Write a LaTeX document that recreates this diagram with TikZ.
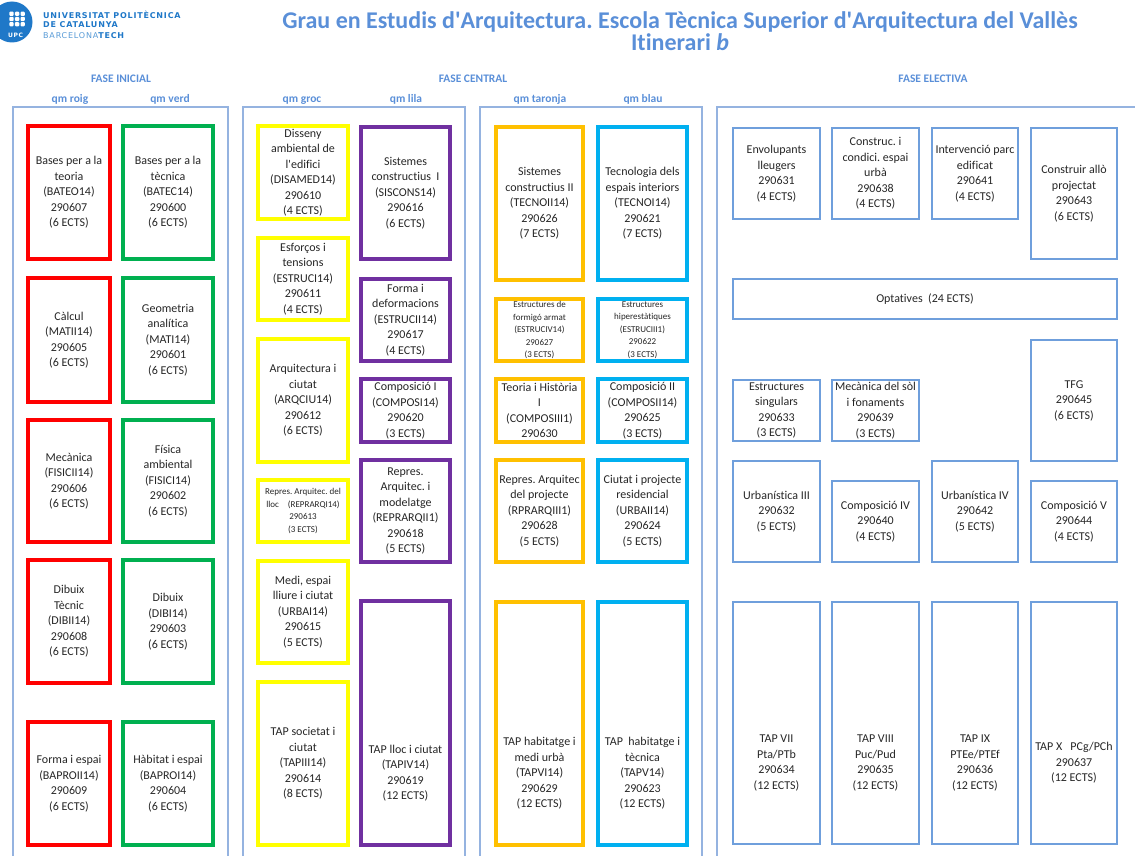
\documentclass[tikz,border=0pt]{standalone}
\usepackage{fontspec}
\setmainfont{Carlito}[Ligatures={NoCommon}]
\newfontfamily\logofont{DejaVu Sans}[LetterSpace=10]
\frenchspacing
\definecolor{qmroig}{HTML}{FF0000}
\definecolor{qmverd}{HTML}{00B050}
\definecolor{qmgroc}{HTML}{FFFF00}
\definecolor{qmlila}{HTML}{7030A0}
\definecolor{qmtaronja}{HTML}{FFC000}
\definecolor{qmblau}{HTML}{00B0F0}
\definecolor{panellblau}{HTML}{95B3E0}
\definecolor{electblau}{HTML}{6F9FDC}
\definecolor{titolblau}{HTML}{5A8FD8}
\definecolor{upcblau}{HTML}{1F78C8}
\definecolor{textgris}{HTML}{262626}
\def\assig[#1](#2)(#3,#4)(#5,#6)[#7]#8{\node[#1, minimum width={(#5-#3)*1pt}, minimum height={(#6-#4)*1pt}] (#2) at ({(#3+#5)/2}, {(#4+#6)/2}) {};
	\node[txt, #7] (#2t) at (#2.center) {#8};}

\begin{document}
\begin{tikzpicture}[x=1pt, y=-1pt,
	caixa/.style={draw, inner sep=0, outer sep=0, line width=3.5pt},
	roig/.style={caixa, draw=qmroig},
	verd/.style={caixa, draw=qmverd},
	groc/.style={caixa, draw=qmgroc},
	lila/.style={caixa, draw=qmlila},
	taronja/.style={caixa, draw=qmtaronja},
	blau/.style={caixa, draw=qmblau},
	elect/.style={caixa, draw=electblau, line width=1.5pt},
	panell/.style={draw=panellblau, line width=2.5pt},
	txt/.style={align=center, inner sep=0, text=textgris, font=\fontsize{12}{15.5}\selectfont},
	petit/.style={font=\fontsize{9}{12.5}\selectfont},
	fase/.style={anchor=base, inner sep=0, text=titolblau, font=\bfseries\fontsize{11.5}{13}\selectfont}]
	%%%%% START %%%%%
	
	\useasboundingbox (0,0) rectangle (1135,856);
	
	% logo
	\fill[upcblau] (12,22) circle (20.5);
	\foreach \i in {0,1,2}
	\foreach \j in {0,1,2}
	\fill[white, rounded corners=1pt] ({9.3+5.6*\i},{11.7+5.2*\j}) rectangle +(4.4,4.2);
	\node[text=white, inner sep=0, font=\logofont\bfseries\fontsize{6}{6}\selectfont] (upc) at (15.5,35.5) {UPC};
	\node[anchor=west, align=left, inner sep=0, text=upcblau, font=\logofont\bfseries\fontsize{8}{8.6}\selectfont] (logotext) at (43,25) {UNIVERSITAT POLITÈCNICA\\DE CATALUNYA\\[2.2pt]{\mdseries\color{upcblau!75}BARCELONA}TECH};
	
	% titol
	\node[align=center, inner sep=0, text=titolblau, font=\bfseries\fontsize{24}{22.5}\selectfont] (titol) at (680,31) {Grau en Estudis d\textquotesingle Arquitectura. Escola Tècnica Superior d\textquotesingle Arquitectura del Vallès\\Itinerari \textit{b}};
	
	% fases
	\node[fase] (inicial) at (121,83) {FASE INICIAL};
	\node[fase] (central) at (473,83) {FASE CENTRAL};
	\node[fase] (electiva) at (933,83) {FASE ELECTIVA};
	\node[fase] (hroig) at (70,102.5) {qm roig};
	\node[fase] (hverd) at (170,102.5) {qm verd};
	\node[fase] (hgroc) at (302,102.5) {qm groc};
	\node[fase] (hlila) at (406,102.5) {qm lila};
	\node[fase] (htaronja) at (540,102.5) {qm taronja};
	\node[fase] (hblau) at (643,102.5) {qm blau};
	
	\draw[panell] (13,870) -- (13,107) -- (228,107) -- (228,870);
	\draw[panell] (243,870) -- (243,107) -- (465,107) -- (465,870);
	\draw[panell] (480,870) -- (480,107) -- (702,107) -- (702,870);
	\draw[panell] (717,870) -- (717,107) -- (1150,107);
	
	% fase inicial
	\assig[roig](bateo)(28,126)(110,259)[]{Bases per a la\\teoria\\(BATEO14)\\290607\\(6 ECTS)}
	\assig[verd](batec)(123,126)(213,259)[]{Bases per a la\\tècnica\\(BATEC14)\\290600\\(6 ECTS)}
	\assig[roig](matii)(28,278)(110,402)[]{Càlcul\\(MATII14)\\290605\\(6 ECTS)}
	\assig[verd](mati)(123,278)(213,402)[]{Geometria\\analítica\\(MATI14)\\290601\\(6 ECTS)}
	\assig[roig](fisicii)(28,420)(110,542)[]{Mecànica\\(FISICII14)\\290606\\(6 ECTS)}
	\assig[verd](fisici)(123,420)(213,542)[]{Física\\ambiental\\(FISICI14)\\290602\\(6 ECTS)}
	\assig[roig](dibii)(28,560)(110,683)[]{Dibuix\\Tècnic\\(DIBII14)\\290608\\(6 ECTS)}
	\assig[verd](dibi)(123,560)(213,683)[]{Dibuix\\(DIBI14)\\290603\\(6 ECTS)}
	\assig[roig](baproii)(28,722)(110,845)[]{Forma i espai\\(BAPROII14)\\290609\\(6 ECTS)}
	\assig[verd](baproi)(123,722)(213,845)[]{Hàbitat i espai\\(BAPROI14)\\290604\\(6 ECTS)}
	
	% fase central
	\assig[groc](disamed)(258,126)(348,219)[]{Disseny\\ambiental de\\l\textquotesingle edifici\\(DISAMED14)\\290610\\(4 ECTS)}
	\assig[groc](estruci)(258,238)(348,320)[]{Esforços i\\tensions\\(ESTRUCI14)\\290611\\(4 ECTS)}
	\assig[groc](arqciu)(258,339)(348,462)[]{Arquitectura i\\ciutat\\(ARQCIU14)\\290612\\(6 ECTS)}
	\assig[groc](reprarqi)(258,480)(348,542)[petit]{Repres. Arquitec. del\\lloc\quad(REPRARQI14)\\290613\\(3 ECTS)}
	\assig[groc](urbai)(258,561)(348,663)[]{Medi, espai\\lliure i ciutat\\(URBAI14)\\290615\\(5 ECTS)}
	\assig[groc](tapiii)(258,682)(348,845)[]{TAP societat i\\ciutat\\(TAPIII14)\\290614\\(8 ECTS)}
	\assig[lila](siscons)(361,127)(450,259)[]{Sistemes\\constructius~ I\\(SISCONS14)\\290616\\(6 ECTS)}
	\assig[lila](estrucii)(361,279)(450,361)[]{Forma i\\deformacions\\(ESTRUCII14)\\290617\\(4 ECTS)}
	\assig[lila](composi)(361,379)(450,442)[]{Composició I\\(COMPOSI14)\\290620\\(3 ECTS)}
	\assig[lila](reprarqii)(361,460)(450,562)[]{Repres.\\Arquitec. i\\modelatge\\(REPRARQII1)\\290618\\(5 ECTS)}
	\assig[lila](tapiv)(361,601)(450,845)[yshift=-50]{TAP lloc i ciutat\\(TAPIV14)\\290619\\(12 ECTS)}
	
	\assig[taronja](tecnoii)(496,127)(583,280)[]{Sistemes\\constructius II\\(TECNOII14)\\290626\\(7 ECTS)}
	\assig[blau](tecnoi)(598,127)(687,280)[]{Tecnologia dels\\espais interiors\\(TECNOI14)\\290621\\(7 ECTS)}
	\assig[taronja](estruciv)(496,299)(583,361)[petit]{Estructures de\\formigó armat\\(ESTRUCIV14)\\290627\\(3 ECTS)}
	\assig[blau](estruciii)(598,299)(687,361)[petit]{Estructures\\hiperestàtiques\\(ESTRUCIII1)\\290622\\(3 ECTS)}
	\assig[taronja](composiii)(496,379)(583,442)[]{Teoria i Història\\I\\(COMPOSIII1)\\290630}
	\assig[blau](composii)(598,379)(687,442)[]{Composició II\\(COMPOSII14)\\290625\\(3 ECTS)}
	\assig[taronja](rprarqiii)(496,460)(583,562)[]{Repres. Arquitec\\del projecte\\(RPRARQIII1)\\290628\\(5 ECTS)}
	\assig[blau](urbaii)(598,460)(687,562)[]{Ciutat i projecte\\residencial\\(URBAII14)\\290624\\(5 ECTS)}
	\assig[taronja](tapvi)(496,602)(583,845)[yshift=-50]{TAP habitatge i\\medi urbà\\(TAPVI14)\\290629\\(12 ECTS)}
	\assig[blau](tapv)(598,602)(687,845)[yshift=-50]{TAP~ habitatge i\\tècnica\\(TAPV14)\\290623\\(12 ECTS)}
	
	% fase electiva
	\assig[elect](e631)(733,128)(820,219)[]{Envolupants\\lleugers\\290631\\(4 ECTS)}
	\assig[elect](e638)(832,128)(919,219)[]{Construc. i\\condici. espai\\urbà\\290638\\(4 ECTS)}
	\assig[elect](e641)(932,128)(1018,219)[]{Intervenció parc\\edificat\\290641\\(4 ECTS)}
	\assig[elect](e643)(1031,128)(1117,259)[]{Construir allò\\projectat\\290643\\(6 ECTS)}
	\assig[elect](optat)(733,279)(1117,319)[]{Optatives~ (24 ECTS)}
	\assig[elect](e633)(733,380)(820,441)[]{Estructures\\singulars\\290633\\(3 ECTS)}
	\assig[elect](e639)(832,380)(919,441)[]{Mecànica del sòl\\i fonaments\\290639\\(3 ECTS)}
	\assig[elect](tfg)(1031,340)(1117,461)[]{TFG\\290645\\(6 ECTS)}
	\assig[elect](e632)(733,461)(820,562)[]{Urbanística III\\290632\\(5 ECTS)}
	\assig[elect](e640)(832,481)(919,562)[]{Composició IV\\290640\\(4 ECTS)}
	\assig[elect](e642)(932,461)(1018,562)[]{Urbanística IV\\290642\\(5 ECTS)}
	\assig[elect](e644)(1031,481)(1117,562)[]{Composició V\\290644\\(4 ECTS)}
	\assig[elect](e634)(733,602)(820,844)[yshift=-40]{TAP VII\\Pta/PTb\\290634\\(12 ECTS)}
	\assig[elect](e635)(832,602)(919,844)[yshift=-40]{TAP VIII\\Puc/Pud\\290635\\(12 ECTS)}
	\assig[elect](e636)(932,602)(1018,844)[yshift=-40]{TAP IX\\PTEe/PTEf\\290636\\(12 ECTS)}
	\assig[elect](e637)(1031,602)(1117,844)[yshift=-40]{TAP X~~ PCg/PCh\\290637\\(12 ECTS)}
	
	%%%%% END %%%%%
\end{tikzpicture}
\end{document}
